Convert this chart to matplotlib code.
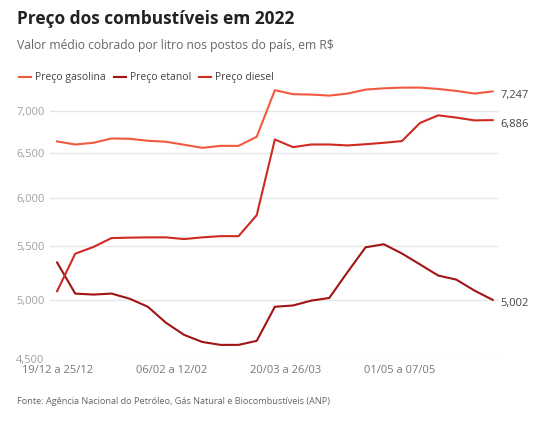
import matplotlib.pyplot as plt
import matplotlib.ticker as mticker
import numpy as np

plt.rcParams['font.family'] = ['Open Sans', 'DejaVu Sans']

# weekly averages (R$/litre), 25 weeks from 19/12/2021
gasolina = [6630, 6594, 6614, 6665, 6661, 6638, 6626, 6591, 6555, 6578, 6578, 6685,
            7263, 7211, 7206, 7193, 7219, 7270, 7287, 7296, 7296, 7279, 7253, 7219, 7247]
etanol = [5346, 5058, 5049, 5058, 5012, 4941, 4802, 4700, 4641, 4617, 4617, 4650,
          4941, 4952, 4995, 5019, 5254, 5492, 5522, 5432, 5327, 5223, 5185, 5085, 5002]
diesel = [5079, 5430, 5495, 5583, 5587, 5590, 5590, 5573, 5590, 5602, 5602, 5815,
          6653, 6563, 6594, 6594, 6583, 6597, 6614, 6634, 6852, 6945, 6917, 6883, 6886]

tick_pos = [0, 6.3, 12.6, 18.9]
tick_labels = ['19/12 a 25/12', '06/02 a 12/02', '20/03 a 26/03', '01/05 a 07/05']
y_ticks = [4500, 5000, 5500, 6000, 6500, 7000]

colors = {'gasolina': '#f15a3f', 'etanol': '#a01414', 'diesel': '#cf2a20'}

fig = plt.figure(figsize=(5.5, 4.33), dpi=100)
ax = fig.add_axes([50/550, 1 - 359.3/433, 449/550, (359.3 - 85)/433])

x = np.arange(len(gasolina))
series = [('Preço gasolina', gasolina, colors['gasolina']),
          ('Preço etanol', etanol, colors['etanol']),
          ('Preço diesel', diesel, colors['diesel'])]
for name, vals, c in series:
    ax.plot(x, vals, color=c, lw=1.5, label=name, zorder=3)

# end labels
for name, vals, c in series:
    ax.annotate(f'{vals[-1]/1000:.3f}'.replace('.', ','), xy=(x[-1], vals[-1]),
                xytext=(8, -4), textcoords='offset pixels', va='center', ha='left',
                fontsize=8, color='#444444', annotation_clip=False)

ax.set_yscale('log')
ax.set_ylim(4500, 7330)
ax.set_xlim(-0.39, 24.35)
ax.yaxis.set_major_locator(mticker.FixedLocator(y_ticks))
ax.yaxis.set_minor_locator(mticker.NullLocator())
ax.yaxis.set_major_formatter(mticker.FuncFormatter(lambda v, p: f'{v:,.0f}'))
ax.set_xticks(tick_pos)
ax.set_xticklabels(tick_labels)
ax.grid(axis='y', color='#e6e6e6', lw=1)
ax.set_axisbelow(True)
for s in ax.spines.values():
    s.set_visible(False)
ax.tick_params(axis='y', length=0, pad=4, labelsize=8, labelcolor='#a0a0a0')
ax.tick_params(axis='x', length=0, pad=4, labelsize=8, labelcolor='#777777')

leg = fig.legend(loc='upper left', bbox_to_anchor=(10/550, 1 - 63/433), ncol=3, frameon=False,
                 fontsize=7.5, handlelength=1.1, handletextpad=0.4, columnspacing=0.8,
                 labelcolor='#444444')

fig.text(17/550, 1 - 19/433, 'Preço dos combustíveis em 2022', fontsize=12.5, fontweight='bold',
         color='#222222', va='center', ha='left')
fig.text(17/550, 1 - 46/433, 'Valor médio cobrado por litro nos postos do país, em R$',
         fontsize=8.7, color='#666666', va='center', ha='left')
fig.text(17/550, 1 - 402/433,
         'Fonte: Agência Nacional do Petróleo, Gás Natural e Biocombustíveis (ANP)',
         fontsize=6.6, color='#666666', va='center', ha='left')

fig.savefig('out.png', dpi=100)
